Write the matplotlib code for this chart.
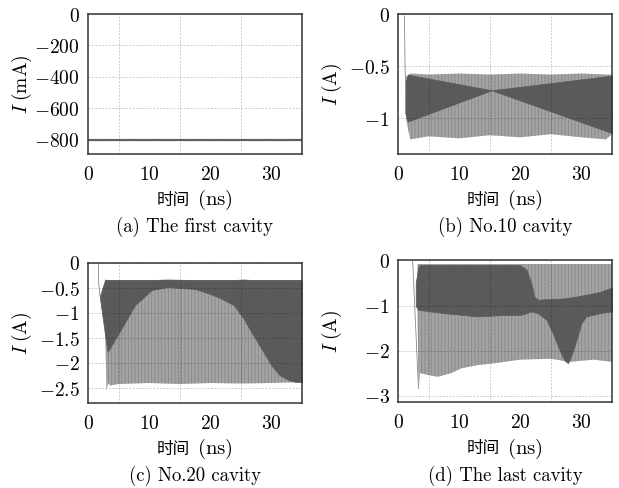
import matplotlib
matplotlib.use("Agg")
import matplotlib.pyplot as plt
from matplotlib.ticker import FuncFormatter, MultipleLocator

plt.rcParams['mathtext.fontset'] = 'cm'
plt.rcParams['font.size'] = 14
plt.rcParams['hatch.linewidth'] = 0.7

DARK = '#5a5a5a'
LIGHT = '#a4a4a4'
STRIPE = '#8a8a8a'

# (a) first cavity: flat current, mA
t_a = [0, 35]
i_a = [-800, -800]

# (b) No.10 cavity, A
t_b_spike = [1.05, 1.15, 1.3]
i_b_spike = [-0.02, -0.5, -0.75]
t_b_light = [1.3, 2, 5, 10, 15, 20, 25, 30, 34, 35]
b_light_top = [-0.6, -0.57, -0.58, -0.57, -0.58, -0.57, -0.58, -0.57, -0.58, -0.58]
b_light_bot = [-1.0, -1.2, -1.17, -1.19, -1.16, -1.18, -1.15, -1.18, -1.2, -1.15]
t_b_left = [1.2, 1.6, 15.3]
b_left_top = [-0.66, -0.58, -0.73]
b_left_bot = [-0.95, -1.03, -0.73]
t_b_right = [15.3, 35]
b_right_top = [-0.73, -0.59]
b_right_bot = [-0.73, -1.14]

# (c) No.20 cavity, A
t_c_spike = [1.7, 1.75, 1.95]
i_c_spike = [-0.03, -0.4, -0.66]
t_c_light = [2.85, 3.0, 3.3, 3.6, 5, 10, 15, 20, 25, 30, 35]
c_light_top = [-0.34] * 11
c_light_bot = [-1.5, -2.55, -2.4, -2.45, -2.42, -2.4, -2.42, -2.4, -2.41, -2.4, -2.38]
t_c_dark = [1.95, 2.8, 3.2, 5, 7.7, 10.4, 13, 17.5, 20, 21.6, 23.8, 25.4,
            27, 28.7, 30, 31.4, 33, 34, 35]
c_dark_top = [-0.66, -0.33, -0.34, -0.34, -0.34, -0.34, -0.33, -0.34, -0.34,
              -0.34, -0.34, -0.33, -0.34, -0.34, -0.34, -0.34, -0.34, -0.34, -0.34]
c_dark_bot = [-0.7, -1.45, -1.78, -1.41, -0.84, -0.54, -0.48, -0.52, -0.62,
              -0.70, -0.84, -1.1, -1.44, -1.78, -2.05, -2.25, -2.35, -2.38, -2.38]

# (d) last cavity, A
t_d_spike = [2.4, 3.35]
i_d_spike = [-0.02, -2.84]
t_d_light = [3.2, 3.4, 3.6, 4.9, 6.5, 8.7, 10.4, 13.1, 15.8, 20, 25, 28, 32, 35]
d_light_top = [-0.08] * 14
d_light_bot = [-1.2, -2.84, -2.5, -2.54, -2.58, -2.5, -2.39, -2.32, -2.28,
               -2.2, -2.18, -2.25, -2.2, -2.25]
t_d_dark = [2.9, 3.3, 3.6, 7.6, 13, 17.4, 19.9, 21.0, 21.8, 22.3, 22.9, 24.3,
            25.3, 26.4, 27.2, 27.8, 28.3, 29.2, 30.0, 30.8, 33, 35]
d_dark_top = [-0.5, -0.15, -0.1, -0.1, -0.1, -0.1, -0.1, -0.2, -0.5, -0.8, -0.87,
              -0.86, -0.85, -0.85, -0.84, -0.83, -0.82, -0.80, -0.78, -0.76, -0.70, -0.60]
d_dark_bot = [-1.0, -1.1, -1.1, -1.17, -1.24, -1.21, -1.21, -1.17, -1.13, -1.15,
              -1.17, -1.32, -1.61, -1.98, -2.21, -2.28, -2.13, -1.76, -1.39,
              -1.24, -1.17, -1.13]

captions = ["(a) The first cavity", "(b) No.10 cavity",
            "(c) No.20 cavity", "(d) The last cavity"]
ylabels = [r"$I\;(\mathrm{mA})$", r"$I\;(\mathrm{A})$", r"$I\;(\mathrm{A})$", r"$I\;(\mathrm{A})$"]
yticks = [[0, -200, -400, -600, -800], [0, -0.5, -1],
          [0, -0.5, -1, -1.5, -2, -2.5], [0, -1, -2, -3]]
ylims = [(-890, 0), (-1.34, 0), (-2.8, 0), (-3.14, 0.01)]

fig = plt.figure(figsize=(6.19, 4.88), dpi=100)
W, H = 619, 488
boxes = [(88, 14, 214, 140), (398, 14, 214, 140),
         (88, 263, 214, 140), (398, 260, 214, 142)]
axes = []
for (x, y, w, h) in boxes:
    axes.append(fig.add_axes([x / W, 1 - (y + h) / H, w / W, h / H]))


def light(ax, t, lo, hi):
    ax.fill_between(t, lo, hi, facecolor=LIGHT, edgecolor=STRIPE,
                    hatch='|||||', linewidth=0, zorder=1)


def dark(ax, t, lo, hi):
    ax.fill_between(t, lo, hi, facecolor=DARK, edgecolor=DARK,
                    linewidth=0.5, zorder=2)


ax = axes[0]
ax.plot(t_a, i_a, color='#666666', lw=1.6, zorder=2)

ax = axes[1]
light(ax, t_b_light, b_light_bot, b_light_top)
dark(ax, t_b_left, b_left_bot, b_left_top)
dark(ax, t_b_right, b_right_bot, b_right_top)
ax.plot(t_b_spike, i_b_spike, color='#888888', lw=0.6, zorder=2)

ax = axes[2]
light(ax, t_c_light, c_light_bot, c_light_top)
dark(ax, t_c_dark, c_dark_bot, c_dark_top)
ax.plot(t_c_spike, i_c_spike, color='#888888', lw=0.6, zorder=2)

ax = axes[3]
light(ax, t_d_light, d_light_bot, d_light_top)
dark(ax, t_d_dark, d_dark_bot, d_dark_top)
ax.plot(t_d_spike, i_d_spike, color='#888888', lw=0.6, zorder=2)

fmt = FuncFormatter(lambda v, p: "$%g$" % v)
for k, ax in enumerate(axes):
    ax.set_xlim(0, 35)
    ax.set_ylim(*ylims[k])
    ax.set_xticks([0, 10, 20, 30])
    ax.xaxis.set_minor_locator(MultipleLocator(5))
    ax.set_yticks(yticks[k])
    ax.xaxis.set_major_formatter(fmt)
    ax.yaxis.set_major_formatter(fmt)
    ax.tick_params(which='both', length=0)
    ax.tick_params(axis='x', pad=8)
    ax.tick_params(axis='y', pad=6)
    ax.set_axisbelow(False)
    ax.grid(True, which='minor', axis='x', color='k', alpha=0.2, lw=0.7, ls=(0, (2, 1.5)))
    ax.grid(True, which='major', axis='y', color='k', alpha=0.2, lw=0.7, ls=(0, (2, 1.5)))
    for s in ax.spines.values():
        s.set_color('#333333')
        s.set_linewidth(1.1)
        s.set_zorder(5)
    # x label: CJK part smaller than the (ns) part, as in the original
    ax.annotate("时间", (0.5, -0.33), xycoords='axes fraction', xytext=(-5, 0),
                textcoords='offset pixels', ha='right', va='center',
                family=['Noto Sans CJK SC', 'DejaVu Sans'], fontsize=12)
    ax.annotate(r"$(\mathrm{ns})$", (0.5, -0.33), xycoords='axes fraction',
                xytext=(2, 0), textcoords='offset pixels', ha='left',
                va='center', fontsize=15)
    ax.set_ylabel(ylabels[k])
    ax.yaxis.label.set_va('center')
    ax.yaxis.set_label_coords(-0.31, 0.5)
    ax.text(0.5, -0.52, captions[k], transform=ax.transAxes,
            ha='center', va='center', family='cmr10', fontsize=13.5)

fig.savefig("out.png", dpi=100)
